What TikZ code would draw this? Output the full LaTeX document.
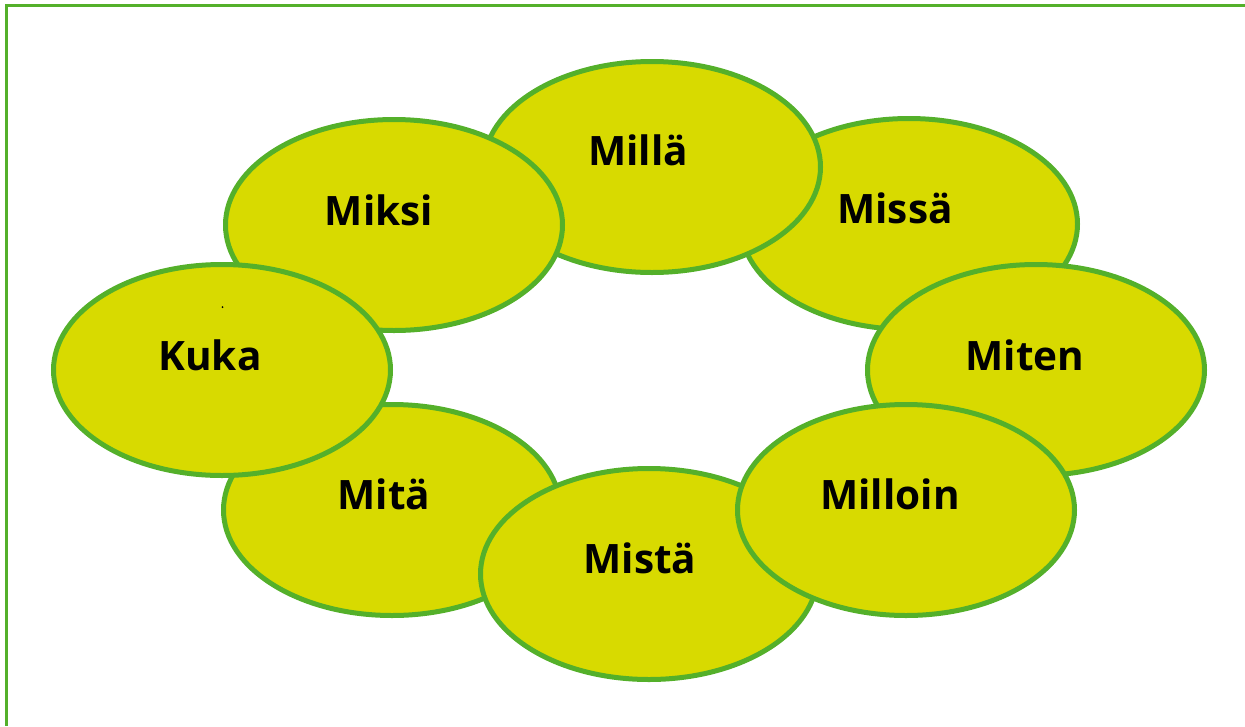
\documentclass[tikz,border=0pt]{standalone}
\usepackage{fontspec}
\setmainfont{Open Sans}
\usetikzlibrary{shapes.geometric}
\definecolor{petal}{RGB}{216,218,0}
\definecolor{rim}{RGB}{84,176,42}
\tikzset{
  petal/.style={ellipse, draw=rim, fill=petal, line width=5pt,
    minimum width=337pt, minimum height=211pt, inner sep=0pt},
  word/.style={font=\bfseries\fontsize{40.5}{48}\selectfont, text=black, inner sep=0pt}
}
\begin{document}
\begin{tikzpicture}[x=1pt,y=-1pt]
\useasboundingbox (0,0) rectangle (1245,726);
\coordinate (tl) at (6.5,5);
\coordinate (tr) at (1245,5);
\coordinate (bl) at (6.5,726);
\draw[rim, line width=3pt] (tr) -- (tl) -- (bl);
% ellipses in stacking order
\node[petal] (missa) at (909,224) {};
\node[petal] (milla) at (652,167) {};
\node[petal] (miksi) at (394,225) {};
\node[petal] (mita) at (392,510) {};
\node[petal] (kuka) at (222,370) {};
\fill[black] (222.5,307) circle (1pt);
\node[petal] (mista) at (649,574) {};
\node[petal] (miten) at (1036,370) {};
\node[petal] (milloin) at (906,510) {};
% labels
\node[word] (tmilla) at (638,150) {Millä};
\node[word] (tmissa) at (895,208) {Missä};
\node[word] (tmiksi) at (379,210) {Miksi};
\node[word] (tkuka) at (210,355) {Kuka};
\node[word] (tmiten) at (1025,355) {Miten};
\node[word] (tmita) at (384,494) {Mitä};
\node[word] (tmilloin) at (890,494) {Milloin};
\node[word] (tmista) at (640,558) {Mistä};
\end{tikzpicture}
\end{document}
